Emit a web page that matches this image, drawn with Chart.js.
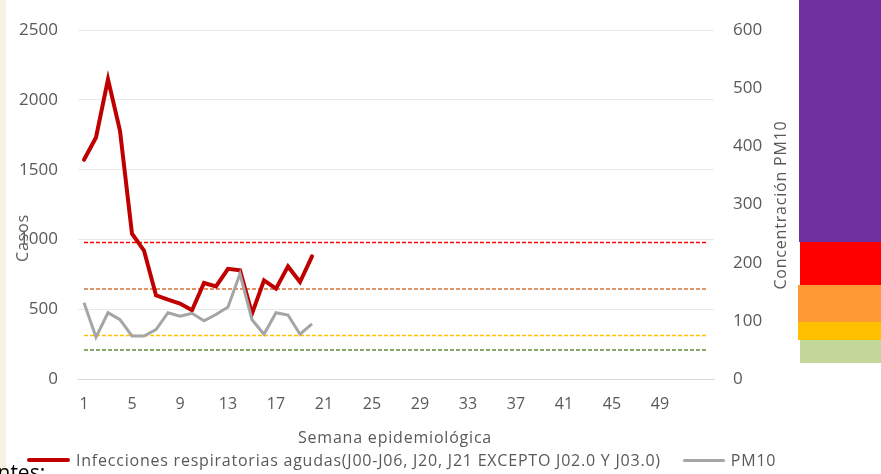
<!DOCTYPE html>
<html>
<head>
<meta charset="utf-8">
<script src="https://cdn.jsdelivr.net/npm/chart.js@4.4.0/dist/chart.umd.min.js"></script>
<style>
  body { margin: 0; background: #fff; }
  #marco { position: relative; width: 881px; height: 474px; overflow: hidden; font-family: "Open Sans", sans-serif; color: #595959; }
  #grafico { position: absolute; left: 0; top: 0; }
  .franja { position: absolute; }
  .titulo { position: absolute; font-size: 16px; white-space: nowrap; letter-spacing: 0.8px; }
  #leyenda { position: absolute; left: 27px; top: 449px; display: flex; align-items: center; font-size: 16px; letter-spacing: 0.78px; white-space: nowrap; }
  .muestra { display: inline-block; height: 4px; border-radius: 2px; }
</style>
</head>
<body>
<div id="marco">
  <div style="position:absolute;left:0;top:0;width:6px;height:474px;background:#f7f2e4;"></div>
  <canvas id="grafico" width="881" height="474"></canvas>

  <!-- escala de colores a la derecha -->
  <div class="franja" style="left:799px;top:0;width:82px;height:242px;background:#7030a0;"></div>
  <div class="franja" style="left:800px;top:242px;width:81px;height:43px;background:#ff0000;"></div>
  <div class="franja" style="left:798px;top:285px;width:83px;height:37px;background:#ff9933;"></div>
  <div class="franja" style="left:798px;top:322px;width:83px;height:18px;background:#ffc000;"></div>
  <div class="franja" style="left:800px;top:340px;width:81px;height:23px;background:#c4d79b;"></div>

  <div class="titulo" id="tituloCasos" style="left:22px;top:238px;transform:translate(-50%,-50%) rotate(-90deg);">Casos</div>
  <div class="titulo" id="tituloPM" style="left:780px;top:205px;transform:translate(-50%,-50%) rotate(-90deg);">Concentración PM10</div>
  <div class="titulo" id="tituloX" style="left:395px;top:437px;transform:translate(-50%,-50%);">Semana epidemiológica</div>

  <div id="leyenda">
    <span class="muestra" style="width:43px;background:#c00000;"></span>
    <span style="margin-left:6px;">Infecciones respiratorias agudas(J00-J06, J20, J21 EXCEPTO J02.0 Y J03.0)</span>
    <span class="muestra" style="width:42px;height:3px;background:#a5a5a5;margin-left:22px;"></span>
    <span style="margin-left:6px;">PM10</span>
  </div>

  <div style="position:absolute;left:-38px;top:458px;font-size:21px;color:#000;">Fuentes:</div>
</div>

<script>
  // Semanas epidemiologicas (eje X)
  var semanas = [1, 2, 3, 4, 5, 6, 7, 8, 9, 10, 11, 12, 13, 14, 15, 16, 17, 18, 19, 20,
    21, 22, 23, 24, 25, 26, 27, 28, 29, 30, 31, 32, 33, 34, 35, 36, 37, 38, 39, 40,
    41, 42, 43, 44, 45, 46, 47, 48, 49, 50, 51, 52, 53];
  var etiquetasX = [1, 5, 9, 13, 17, 21, 25, 29, 33, 37, 41, 45, 49];

  // Casos de IRA por semana
  var casosIRA = [1571, 1731, 2148, 1779, 1041, 921, 600, 569, 541, 493,
    688, 664, 790, 779, 469, 707, 648, 807, 695, 879];

  // Concentracion PM10 por semana
  var pm10 = [131, 72, 114, 102, 74, 74, 85, 114, 108, 113,
    100, 111, 124, 181, 102, 77, 114, 110, 77, 95];

  // Limites de calidad del aire PM10 (lineas punteadas)
  var limitesPM10 = [235, 155, 75, 50];
  var coloresLimites = ["#ff0000", "#d5733a", "#ffc000", "#5e8f3a"];

  var datasets = [];

  datasets.push({
    label: "PM10",
    data: pm10,
    yAxisID: "yPM",
    borderColor: "#a5a5a5",
    borderWidth: 3,
    pointRadius: 0,
    tension: 0,
    order: 1
  });

  datasets.push({
    label: "Infecciones respiratorias agudas(J00-J06, J20, J21 EXCEPTO J02.0 Y J03.0)",
    data: casosIRA,
    yAxisID: "yCasos",
    borderColor: "#c00000",
    borderWidth: 4,
    borderCapStyle: "round",
    pointRadius: 0,
    tension: 0,
    order: 2
  });

  for (var i = 0; i < limitesPM10.length; i++) {
    datasets.push({
      label: "limite" + limitesPM10[i],
      data: semanas.map(function() { return limitesPM10[i]; }),
      yAxisID: "yPM",
      borderColor: coloresLimites[i],
      borderWidth: 1.5,
      borderDash: [4, 2],
      pointRadius: 0,
      order: 3
    });
  }

  var fuenteTicks = { family: "Open Sans", size: 17 };
  var sinComas = function(value) { return String(value); };

  new Chart(document.getElementById("grafico"), {
    type: "line",
    data: { labels: semanas, datasets: datasets },
    options: {
      responsive: false,
      animation: false,
      layout: { padding: { top: 29, left: 0, right: 0, bottom: 0 } },
      plugins: { legend: { display: false }, tooltip: { enabled: false } },
      scales: {
        x: {
          offset: true,
          grid: { display: false, drawTicks: false },
          border: { color: "#d9d9d9", width: 1 },
          ticks: {
            autoSkip: false,
            maxRotation: 0,
            padding: 16,
            color: "#595959",
            font: { family: "Open Sans", size: 16 },
            callback: function(value, index) {
              var s = semanas[index];
              return etiquetasX.indexOf(s) >= 0 ? String(s) : "";
            }
          },
          afterFit: function(scale) { scale.height = 95; }
        },
        yCasos: {
          position: "left",
          min: 0,
          max: 2500,
          grid: { color: "#e8e8e8", drawTicks: false },
          border: { display: false },
          ticks: { stepSize: 500, padding: 20, color: "#595959", font: fuenteTicks, callback: sinComas },
          afterFit: function(scale) { scale.width = 78; }
        },
        yPM: {
          position: "right",
          min: 0,
          max: 600,
          grid: { drawOnChartArea: false, drawTicks: false },
          border: { display: false },
          ticks: { stepSize: 100, padding: 19, color: "#595959", font: fuenteTicks, callback: sinComas },
          afterFit: function(scale) { scale.width = 167; }
        }
      }
    }
  });
</script>
</body>
</html>
